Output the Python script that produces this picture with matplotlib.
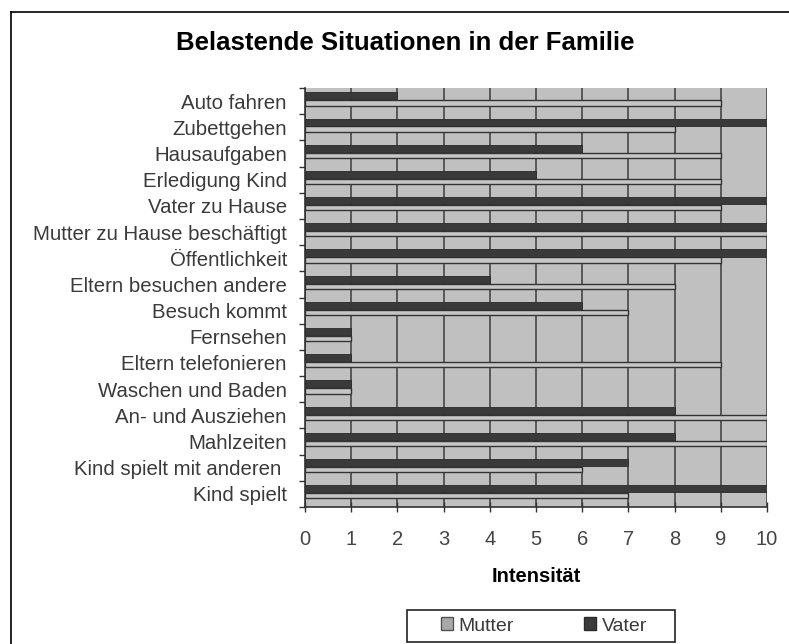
import matplotlib
matplotlib.use("Agg")
import matplotlib.pyplot as plt
import numpy as np
from matplotlib.patches import Patch, Rectangle
from matplotlib.lines import Line2D

plt.rcParams['font.family'] = ['Liberation Sans', 'DejaVu Sans']

# categories listed from bottom to top
categories = ["Kind spielt", "Kind spielt mit anderen ", "Mahlzeiten", "An- und Ausziehen",
              "Waschen und Baden", "Eltern telefonieren", "Fernsehen", "Besuch kommt",
              "Eltern besuchen andere", "Öffentlichkeit", "Mutter zu Hause beschäftigt",
              "Vater zu Hause", "Erledigung Kind", "Hausaufgaben", "Zubettgehen", "Auto fahren"]
mutter = [7, 6, 10, 10, 1, 9, 1, 7, 8, 9, 10, 9, 9, 9, 8, 9]
vater = [10, 7, 8, 8, 1, 1, 1, 6, 4, 10, 10, 10, 5, 6, 10, 2]
x_ticks = list(range(0, 11))

W, H = 789, 644
fig = plt.figure(figsize=(W / 100, H / 100), dpi=100)
ax = fig.add_axes([305 / W, 1 - 507 / H, (767 - 305) / W, (507 - 88) / H])
ax.set_facecolor('#c0c0c0')

y = np.arange(len(categories))
ax.barh(y - 0.07, mutter, height=0.2, color='#c6c6c6', edgecolor='#333333',
        linewidth=1.0, zorder=3, label='Mutter')
ax.barh(y + 0.2, vater, height=0.27, color='#3a3a3a', edgecolor='#2a2a2a',
        linewidth=0.6, zorder=3, label='Vater')

ax.set_xlim(0, 10)
ax.set_ylim(-0.5, len(categories) - 0.5)
ax.set_xticks(x_ticks)
ax.set_xticklabels([str(v) for v in x_ticks], fontsize=14.5, color='#444444')
ax.set_yticks(y)
ax.set_yticklabels(categories, fontsize=14.7, color='#3a3a3a')
ax.set_yticks(np.arange(-0.5, len(categories), 1), minor=True)
ax.tick_params(axis='y', which='major', length=0, pad=13)
ax.tick_params(axis='y', which='minor', length=4, width=1, direction='out', color='#333333')
ax.tick_params(axis='x', which='major', length=7, width=1, direction='inout', color='#333333', pad=13)

ax.grid(axis='x', color='#505050', linewidth=1.3, zorder=1)
ax.set_axisbelow(True)
for s in ['top', 'right']:
    ax.spines[s].set_visible(False)
for s in ['left', 'bottom']:
    ax.spines[s].set_color('#333333')
    ax.spines[s].set_linewidth(1.2)

fig.text(405 / W, 1 - 43 / H, "Belastende Situationen in der Familie",
         ha='center', va='center', fontsize=18.5, fontweight='bold')
fig.text(536 / W, 1 - 576 / H, "Intensität", ha='center', va='center',
         fontsize=14.5, fontweight='bold')

handles = [Patch(facecolor='#a8a8a8', edgecolor='#555555', label='Mutter'),
           Patch(facecolor='#3a3a3a', edgecolor='#2a2a2a', label='Vater')]
leg = fig.legend(handles=handles, loc='center', bbox_to_anchor=(544 / W, 1 - 626 / H),
                 ncol=2, fontsize=14, frameon=False,
                 handlelength=0.6, handleheight=0.6, handletextpad=0.3,
                 columnspacing=3.6, borderpad=0.3, borderaxespad=0)
for t in leg.get_texts():
    t.set_color('#3a3a3a')
fig.add_artist(Rectangle((407 / W, 1 - 642 / H), (675 - 407) / W, 32 / H,
                         transform=fig.transFigure, fill=False,
                         edgecolor='#222222', linewidth=1.2))

# outer chart border (top and left visible)
fig.add_artist(Line2D([11 / W, 1.0], [1 - 12 / H, 1 - 12 / H], color='black', linewidth=1.2))
fig.add_artist(Line2D([11 / W, 11 / W], [0.0, 1 - 12 / H], color='black', linewidth=1.2))

fig.savefig("out.png", dpi=100)
